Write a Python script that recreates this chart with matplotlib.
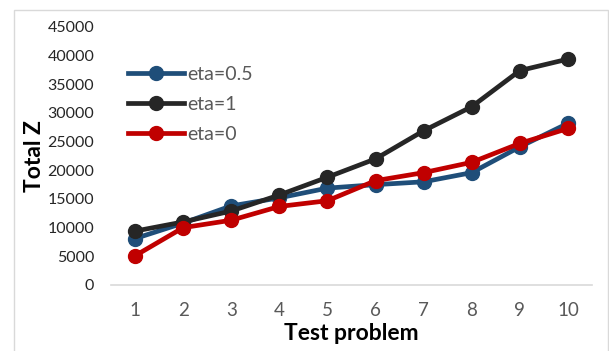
import matplotlib
matplotlib.use('Agg')
import matplotlib.pyplot as plt
from matplotlib.patches import Rectangle

plt.rcParams['font.family'] = ['Lato', 'DejaVu Sans']

# data
problems = [1, 2, 3, 4, 5, 6, 7, 8, 9, 10]
eta_05 = [8100, 10800, 13800, 15200, 16900, 17500, 18000, 19600, 24100, 28200]
eta_1 = [9400, 11000, 12900, 15700, 18800, 22000, 26900, 31100, 37400, 39400]
eta_0 = [5100, 10000, 11300, 13700, 14700, 18200, 19600, 21400, 24700, 27300]

series = [('eta=0.5', eta_05, '#1F4E79'),
          ('eta=1', eta_1, '#262626'),
          ('eta=0', eta_0, '#C00000')]

fig = plt.figure(figsize=(6.09, 3.51), dpi=100)
ax = fig.add_axes([111/609, 1 - 285/351, 481/609, (285 - 27)/351])

for name, vals, col in series:
    ax.plot(problems, vals, color=col, lw=3.4, marker='o', ms=10, label=name)

ax.set_xlim(0.5, 10.5)
ax.set_ylim(0, 45000)
ax.set_yticks(range(0, 45001, 5000))
ax.set_xticks(problems)
for s in ['top', 'right', 'left']:
    ax.spines[s].set_visible(False)
ax.spines['bottom'].set_color('#D9D9D9')
ax.spines['bottom'].set_linewidth(1.2)
ax.tick_params(axis='y', length=0, pad=12, labelsize=11.5, labelcolor='#262626')
ax.tick_params(axis='x', length=0, pad=12, labelsize=13.5, labelcolor='#595959')

ax.set_xlabel('Test problem', fontsize=16.5, fontweight='bold', labelpad=3)
ax.set_ylabel('Total Z', fontsize=16.5, fontweight='bold', labelpad=2)

leg = ax.legend(loc='upper left', bbox_to_anchor=(0.02, 0.88), frameon=False,
                fontsize=14, handlelength=2.85, handletextpad=0.2,
                labelspacing=0.68, borderaxespad=0)
for t in leg.get_texts():
    t.set_color('#595959')

# chart border
fig.patches.append(Rectangle((14/609, -0.05), 594/609, 1.05 - 10/351,
                             transform=fig.transFigure, fill=False,
                             edgecolor='#D9D9D9', lw=1))

fig.savefig('out.png', dpi=100)
